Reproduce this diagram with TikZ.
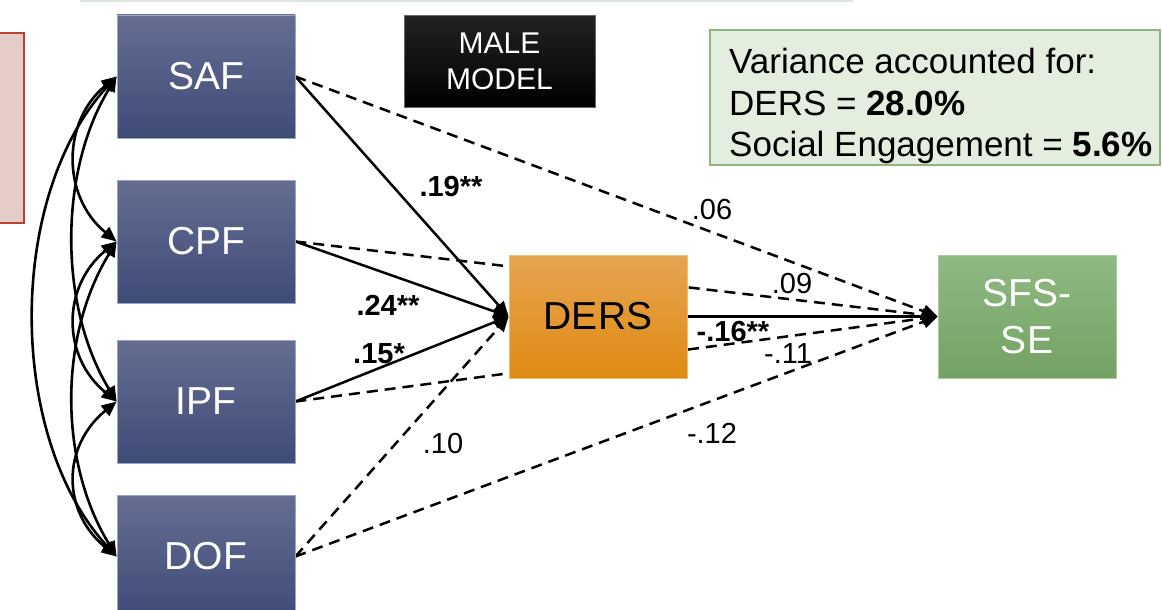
\documentclass[tikz,border=0pt]{standalone}
\usepackage{fontspec}
\setmainfont{Liberation Sans}
\usetikzlibrary{arrows.meta,backgrounds}

\definecolor{factortop}{HTML}{656D91}
\definecolor{factorbot}{HTML}{3F4B78}
\definecolor{factorrim}{HTML}{9AA6C8}
\definecolor{derstop}{HTML}{E6A552}
\definecolor{dersbot}{HTML}{DF8A12}
\definecolor{dersrim}{HTML}{F0BC78}
\definecolor{outtop}{HTML}{8FBA83}
\definecolor{outbot}{HTML}{73A263}
\definecolor{outrim}{HTML}{A8CC9C}
\definecolor{tagtop}{HTML}{222222}
\definecolor{tagrim}{HTML}{666666}
\definecolor{varfill}{HTML}{E3EEDF}
\definecolor{varrim}{HTML}{8DB57C}
\definecolor{notefill}{HTML}{E6CCC7}
\definecolor{noterim}{HTML}{B9442B}
\definecolor{topline}{HTML}{DCE6DC}

\begin{document}
\begin{tikzpicture}[x=1pt,y=-1pt,
  factor/.style={minimum width=178pt, minimum height=123pt, inner sep=0pt,
    draw=factorrim, line width=0.8pt, top color=factortop, bottom color=factorbot,
    text=white, align=center, font=\fontsize{39}{47}\selectfont},
  mediator/.style={factor, draw=dersrim, top color=derstop, bottom color=dersbot, text=black},
  outcome/.style={factor, draw=outrim, top color=outtop, bottom color=outbot, text=white},
  tagbox/.style={minimum width=191pt, minimum height=92pt, inner sep=0pt,
    draw=tagrim, line width=0.8pt, top color=tagtop, bottom color=black,
    text=white, align=center, font=\fontsize{30}{36}\selectfont},
  varbox/.style={minimum width=450pt, minimum height=135pt, inner sep=0pt,
    draw=varrim, line width=2pt, fill=varfill},
  vartext/.style={inner sep=0pt, align=left, text=black, font=\fontsize{35}{41.5}\selectfont},
  notebox/.style={minimum width=44pt, minimum height=190pt, inner sep=0pt,
    draw=noterim, line width=2.2pt, fill=notefill},
  lbl/.style={inner sep=0pt, text=black, font=\fontsize{29}{34}\selectfont},
  lblb/.style={lbl, font=\fontsize{29}{34}\selectfont\bfseries},
  tipshape/.tip={Triangle[length=15pt,width=13pt]},
  cov/.style={line width=2.6pt, tipshape-tipshape},
  reg/.style={line width=2.5pt, -tipshape},
  dreg/.style={reg, dash pattern=on 11pt off 7pt}
]
\useasboundingbox (0,0) rectangle (1162,610);

% faint edge of the panel above
\coordinate (rimL) at (80,1);
\coordinate (rimR) at (853,1);
\draw[topline, line width=1.5pt] (rimL) -- (rimR);

% side note panel, cut by the page edge
\node[notebox] (NOTE) at (2,128) {};

% latent factors
\node[factor] (SAF) at (206,76.5) {SAF};
\node[factor] (CPF) at (206,241.5) {CPF};
\node[factor] (IPF) at (206,401.5) {IPF};
\node[factor] (DOF) at (206,556.5) {DOF};

% mediator and outcome
\node[mediator] (DERS) at (598,316.5) {DERS};
\node[outcome] (SFS) at (1027,316.5) {SFS-\\SE};

% model tag and variance summary
\node[tagbox] (MALE) at (499.5,61.5) {MALE\\MODEL};
\node[varbox] (VAR) at (935,97.5) {};
\node[vartext, anchor=west] (VARTXT) at (729,106)
  {Variance accounted for:\\DERS = \textbf{28.0\%}\\Social Engagement = \textbf{5.6\%}};

\begin{pgfonlayer}{background}
  % covariances among the factors
  \draw[cov] (SAF.west) .. controls +(-55,45) and +(-55,-45) .. (CPF.west);
  \draw[cov] (CPF.west) .. controls +(-55,45) and +(-55,-45) .. (IPF.west);
  \draw[cov] (IPF.west) .. controls +(-55,45) and +(-55,-45) .. (DOF.west);
  \draw[cov] (SAF.west) .. controls +(-58,95) and +(-58,-95) .. (IPF.west);
  \draw[cov] (CPF.west) .. controls +(-58,95) and +(-58,-95) .. (DOF.west);
  \draw[cov] (SAF.west) .. controls +(-110,120) and +(-110,-120) .. (DOF.west);

  % paths to the mediator
  \draw[reg]  (SAF.east) -- (DERS.west);
  \draw[reg]  (CPF.east) -- (DERS.west);
  \draw[reg]  (IPF.east) -- (DERS.west);
  \draw[dreg] (DOF.east) -- (DERS.west);

  % paths to the outcome
  \draw[dreg] (SAF.east) -- (SFS.west);
  \draw[dreg] (CPF.east) -- (SFS.west);
  \draw[dreg] (IPF.east) -- (SFS.west);
  \draw[dreg] (DOF.east) -- (SFS.west);
  \draw[reg]  (DERS.east) -- (SFS.west);
\end{pgfonlayer}

% path coefficients
\node[lblb] (c19) at (451,187) {.19**};
\node[lblb] (c24) at (388,305) {.24**};
\node[lblb] (c15) at (379,354) {.15*};
\node[lbl]  (c10) at (443,444) {.10};
\node[lbl]  (c06) at (712,210) {.06};
\node[lbl]  (c09) at (792,284) {.09};
\node[lblb] (c16) at (733,332) {-.16**};
\node[lbl]  (c11) at (788,354) {-.11};
\node[lbl]  (c12) at (712,433) {-.12};
\end{tikzpicture}
\end{document}
